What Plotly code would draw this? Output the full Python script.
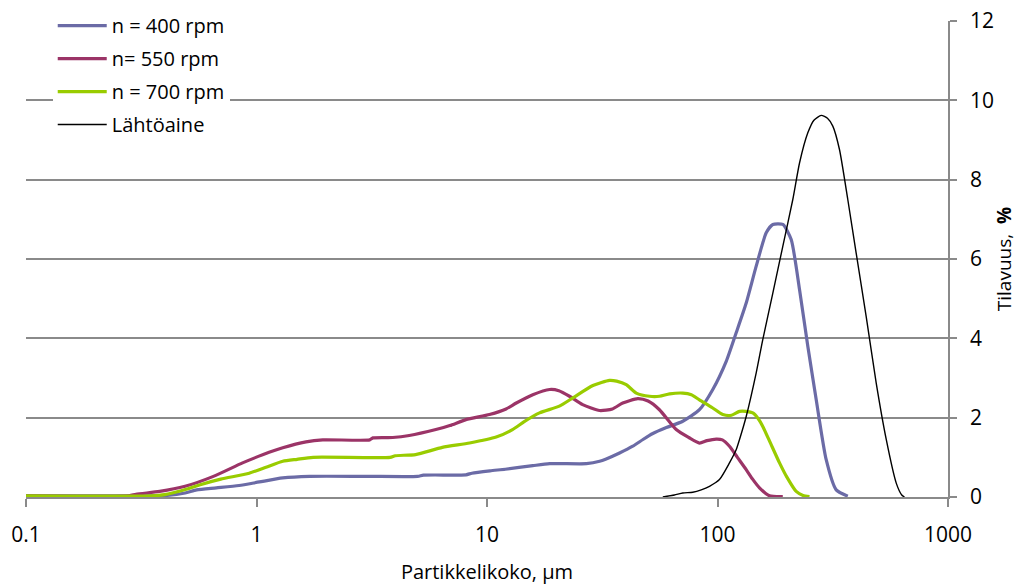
import plotly.graph_objects as go

# ---- data ----
x_400 = [0.1, 0.2, 0.3, 0.41, 0.49, 0.55, 0.67, 0.84, 1.03, 1.3, 1.7, 3.0, 5.0, 5.3, 8.1, 8.6,
         10.3, 12.0, 15.8, 18.7, 27.0, 30.8, 32.9, 37.6, 42.9, 47.5, 52.4, 60.0, 70.7, 83.5,
         95.4, 109.1, 120.5, 133.2, 147.2, 162.7, 173.8, 192.0, 208.8, 226.9, 246.5, 268.1,
         296.2, 327.3, 367.5]
y_400 = [0.03, 0.03, 0.03, 0.04, 0.10, 0.18, 0.23, 0.29, 0.38, 0.48, 0.52, 0.52, 0.52, 0.55, 0.56, 0.60,
         0.66, 0.70, 0.79, 0.84, 0.84, 0.90, 0.96, 1.11, 1.28, 1.45, 1.60, 1.75, 1.91, 2.20,
         2.71, 3.42, 4.14, 4.89, 5.82, 6.66, 6.87, 6.87, 6.49, 5.23, 3.80, 2.45,
         0.94, 0.18, 0.02]

x_550 = [0.1, 0.28, 0.3, 0.38, 0.49, 0.65, 0.87, 1.07, 1.3, 1.64, 1.94, 3.1, 3.2, 3.9, 4.6, 6.0,
         6.9, 8.1, 10.25, 12.1, 13.4, 15.8, 18.7, 20.5, 22.8, 26.0, 30.8, 35.0, 38.8, 45.1,
         50.0, 56.0, 66.2, 75.0, 83.5, 90.0, 98.7, 105.0, 112.7, 122.0, 133.2, 142.0, 152.1,
         168.1, 192.0]
y_550 = [0.03, 0.03, 0.07, 0.14, 0.27, 0.52, 0.86, 1.07, 1.24, 1.39, 1.44, 1.44, 1.49, 1.50, 1.55, 1.70,
         1.80, 1.95, 2.08, 2.22, 2.37, 2.58, 2.71, 2.68, 2.54, 2.33, 2.18, 2.22, 2.37, 2.48,
         2.42, 2.20, 1.70, 1.50, 1.36, 1.42, 1.46, 1.44, 1.28, 1.00, 0.69, 0.45, 0.23,
         0.03, 0.01]

x_700 = [0.1, 0.35, 0.4, 0.5, 0.57, 0.7, 0.93, 1.1, 1.3, 1.5, 1.76, 3.8, 4.0, 4.9, 6.4, 8.4,
         10.96, 12.9, 14.5, 16.9, 20.6, 23.6, 28.8, 34.0, 36.5, 40.2, 44.4, 50.7, 56.0, 62.0,
         70.7, 77.0, 83.5, 95.0, 105.4, 115.0, 124.6, 133.0, 142.3, 150.0, 157.2, 170.0,
         185.8, 200.0, 219.5, 235.0, 250.6]
y_700 = [0.03, 0.03, 0.06, 0.20, 0.31, 0.45, 0.60, 0.75, 0.90, 0.95, 1.00, 1.00, 1.04, 1.07, 1.25, 1.36,
         1.51, 1.70, 1.90, 2.12, 2.29, 2.50, 2.81, 2.94, 2.92, 2.83, 2.62, 2.54, 2.54, 2.60,
         2.62, 2.58, 2.45, 2.25, 2.08, 2.06, 2.16, 2.16, 2.12, 1.98, 1.78, 1.35,
         0.86, 0.50, 0.14, 0.04, 0.01]

x_raw = [57.9, 65.0, 70.7, 78.1, 85.0, 92.3, 102.0, 112.7, 120.5, 124.6, 133.2, 147.2, 157.2,
         173.8, 192.0, 212.2, 226.9, 246.5, 262.0, 281.8, 300.0, 316.4, 338.2, 367.5, 399.6,
         441.7, 488.2, 539.6, 596.3, 630.0, 647.5]
y_raw = [0.00, 0.05, 0.10, 0.12, 0.18, 0.27, 0.44, 0.86, 1.19, 1.45, 2.03, 3.13, 3.97,
         5.14, 6.32, 7.50, 8.42, 9.18, 9.50, 9.62, 9.55, 9.35, 8.76, 7.50, 6.15,
         4.55, 2.87, 1.45, 0.35, 0.05, 0.00]

names = ["n = 400 rpm", "n= 550 rpm", "n = 700 rpm", "Lähtöaine"]
colors = ["#6B6BA6", "#9B3467", "#99CC00", "#000000"]
widths = [3.2, 3.2, 3.2, 1.4]

x_ticks = [0.1, 1, 10, 100, 1000]
x_tick_text = ["0.1", "1", "10", "100", "1000"]
y_ticks = [0, 2, 4, 6, 8, 10, 12]

FONT = "Open Sans"
GRID = "#8A8A8A"

fig = go.Figure()
series = [(x_400, y_400), (x_550, y_550), (x_700, y_700), (x_raw, y_raw)]
for i, (xs, ys) in enumerate(series):
    fig.add_trace(go.Scatter(
        x=xs, y=ys, mode="lines", name=names[i], legendgroup=f"g{i}",
        line=dict(color=colors[i], width=widths[i], shape="spline", smoothing=0.6),
    ))

fig.update_layout(
    width=1018, height=585,
    margin=dict(l=26, r=70, t=21, b=88, autoexpand=False),
    paper_bgcolor="white", plot_bgcolor="white",
    font=dict(family=FONT, color="#000000", size=20),
    showlegend=True,
    legend=dict(
        xref="container", yref="container",
        x=0.0518, y=0.9897, xanchor="left", yanchor="top",
        bgcolor="white", borderwidth=0,
        font=dict(family=FONT, size=20, color="#000000"),
        traceorder="grouped", tracegroupgap=4, itemwidth=49,
    ),
    xaxis=dict(
        type="log", range=[-1, 3], automargin=False,
        tickvals=x_ticks, ticktext=x_tick_text,
        showgrid=False, zeroline=False,
        showline=True, linecolor=GRID, linewidth=1.5,
        ticks="outside", ticklen=8, tickwidth=1.5, tickcolor=GRID,
        tickfont=dict(family=FONT, size=21),
        ticklabelstandoff=10,
        title=dict(text="Partikkelikoko, µm", font=dict(family=FONT, size=20), standoff=19),
    ),
    yaxis=dict(
        side="right", range=[0, 12], tickvals=y_ticks, automargin=False,
        showgrid=True, gridcolor=GRID, gridwidth=1.5, zeroline=False,
        showline=True, linecolor=GRID, linewidth=1.5,
        ticks="outside", ticklen=7, tickwidth=1.5, tickcolor=GRID,
        tickfont=dict(family=FONT, size=21),
        ticklabelstandoff=9,
        title=dict(text="Tilavuus,  <b>%</b>", font=dict(family=FONT, size=19), standoff=5),
    ),
)

fig.write_html("out.html")
